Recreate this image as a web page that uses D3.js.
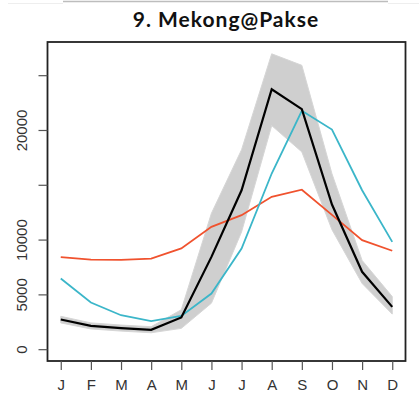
<!DOCTYPE html>
<html>
<head>
<meta charset="utf-8">
<script src="https://cdn.jsdelivr.net/npm/d3@7"></script>
<style>
  html, body { margin: 0; padding: 0; background: #fff; }
  svg { display: block; }
</style>
</head>
<body>
<svg id="chart" width="419" height="398"></svg>
<script>
// Monthly discharge at Pakse on the Mekong (m³/s)
const months = ["J", "F", "M", "A", "M", "J", "J", "A", "S", "O", "N", "D"];
const observed = [2710, 2130, 1920, 1770, 2890, 8420, 14500, 23720, 21900, 13200, 7060, 3860];
const bandLow  = [2400, 1850, 1650, 1500, 1900, 4200, 10700, 20400, 18000, 10900, 6000, 3200];
const bandHigh = [3000, 2400, 2200, 2050, 3600, 12400, 18200, 26950, 25900, 16000, 8100, 4800];
const modelA   = [6450, 4260, 3100, 2560, 3040, 5080, 9190, 16030, 21750, 20040, 14500, 9790];
const modelB   = [8400, 8180, 8150, 8270, 9190, 11160, 12230, 13900, 14550, 12250, 9950, 8980];
const yTicks = [0, 5000, 10000, 15000, 20000, 25000];
const yTickLabels = ["0", "5000", "10000", "", "20000", ""];

const svg = d3.select("#chart");
const plot = { left: 47.5, right: 405.5, top: 42, bottom: 361 };

// R-style 4% padding around the data range
const xs = d3.range(1, 13);
const x = d3.scaleLinear()
  .domain([1 - 0.44, 12 + 0.44])
  .range([plot.left, plot.right]);
const yMax = d3.max(bandHigh);
const yPad = yMax * 0.04;
const y = d3.scaleLinear()
  .domain([0 - yPad, yMax + yPad])
  .range([plot.bottom, plot.top]);

// thin frame line along the top edge
svg.append("line").attr("x1", 63).attr("x2", 388).attr("y1", 1.5).attr("y2", 1.5)
  .attr("stroke", "#bdbdbd").attr("stroke-width", 1.5);
svg.append("line").attr("x1", 8).attr("x2", 63).attr("y1", 3.5).attr("y2", 3.5)
  .attr("stroke", "#eeeeee").attr("stroke-width", 1);
svg.append("line").attr("x1", 388).attr("x2", 419).attr("y1", 3.5).attr("y2", 3.5)
  .attr("stroke", "#eeeeee").attr("stroke-width", 1);

// title
svg.append("text")
  .attr("x", 226).attr("y", 27)
  .attr("text-anchor", "middle")
  .attr("font-family", "Lato, 'DejaVu Sans', sans-serif")
  .attr("font-weight", "bold")
  .attr("font-size", 21)
  .attr("letter-spacing", 1)
  .attr("fill", "#111")
  .text("9. Mekong@Pakse");

// uncertainty band
const area = d3.area()
  .x((d, i) => x(xs[i]))
  .y0((d, i) => y(bandLow[i]))
  .y1((d, i) => y(bandHigh[i]));
svg.append("path")
  .datum(bandLow)
  .attr("d", area)
  .attr("fill", "#cfcfcf")
  .attr("stroke", "#d6d6d6")
  .attr("stroke-width", 1);

const line = d3.line().x((d, i) => x(xs[i])).y(d => y(d));

svg.append("path").datum(modelB).attr("d", line)
  .attr("fill", "none").attr("stroke", "#f0522e").attr("stroke-width", 1.8);
svg.append("path").datum(modelA).attr("d", line)
  .attr("fill", "none").attr("stroke", "#3bb6c9").attr("stroke-width", 1.8);
svg.append("path").datum(observed).attr("d", line)
  .attr("fill", "none").attr("stroke", "#000").attr("stroke-width", 2.2);

// box
svg.append("rect")
  .attr("x", plot.left).attr("y", plot.top)
  .attr("width", plot.right - plot.left).attr("height", plot.bottom - plot.top)
  .attr("fill", "none").attr("stroke", "#222").attr("stroke-width", 1.8);

// y axis
const yAxis = d3.axisLeft(y)
  .tickValues(yTicks)
  .tickSize(9)
  .tickFormat("");
const gy = svg.append("g").attr("transform", `translate(${plot.left},0)`).call(yAxis);
gy.select(".domain").remove();
gy.selectAll(".tick line").attr("stroke", "#555").attr("stroke-width", 1.2);
gy.selectAll(".tick").append("text")
  .attr("transform", "translate(-26,0) rotate(-90)")
  .attr("text-anchor", "middle")
  .attr("dy", "0.36em")
  .attr("font-family", "'Liberation Sans', Arial, sans-serif")
  .attr("font-size", 15)
  .attr("fill", "#333")
  .text((d, i) => yTickLabels[i]);

// x axis
const xAxis = d3.axisBottom(x)
  .tickValues(xs)
  .tickSize(9)
  .tickPadding(9)
  .tickFormat((d, i) => months[i]);
const gx = svg.append("g").attr("transform", `translate(0,${plot.bottom})`).call(xAxis);
gx.select(".domain").remove();
gx.selectAll(".tick line").attr("stroke", "#555").attr("stroke-width", 1.2);
gx.selectAll(".tick text")
  .attr("font-family", "'Liberation Sans', Arial, sans-serif")
  .attr("font-size", 15)
  .attr("fill", "#333");
</script>
</body>
</html>
